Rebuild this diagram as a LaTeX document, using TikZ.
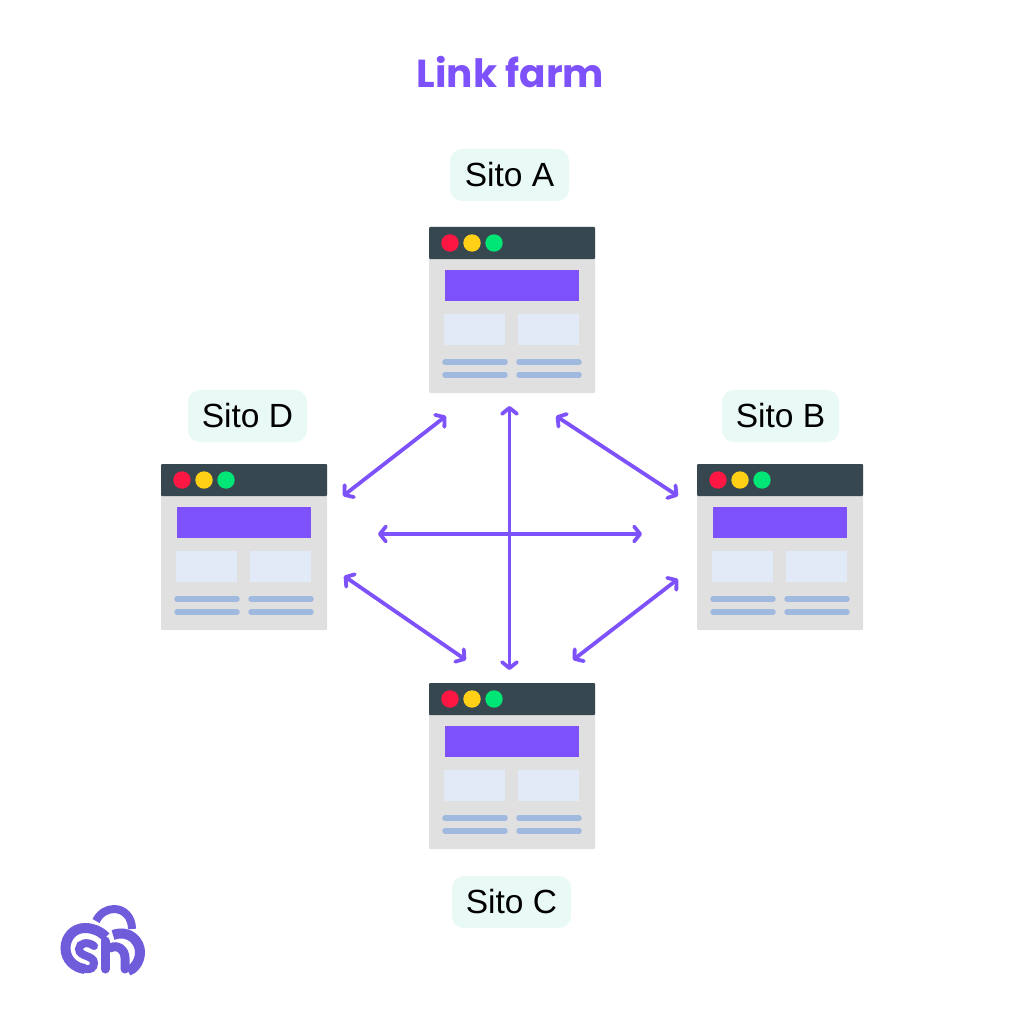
\documentclass[tikz,border=0pt]{standalone}
\usepackage{fontspec}
\setmainfont{Liberation Sans}
\newfontfamily\titlefont{Poppins}
\usetikzlibrary{arrows.meta}

\definecolor{violet}{HTML}{7E52FB}
\definecolor{barcol}{HTML}{37474F}
\definecolor{pagecol}{HTML}{E0E0E0}
\definecolor{boxcol}{HTML}{E2EAF8}
\definecolor{linecol}{HTML}{A0B9DE}
\definecolor{pillcol}{HTML}{E9F9F6}
\definecolor{logocol}{HTML}{6F5CDB}
\definecolor{dotred}{HTML}{FF1744}
\definecolor{dotyellow}{HTML}{FFD015}
\definecolor{dotgreen}{HTML}{00E676}

\tikzstyle{pill} = [fill=pillcol, rounded corners=12pt, minimum height=52pt, inner xsep=0pt, font=\fontsize{33.5}{34}\selectfont]
\tikzstyle{window} = [fill=pagecol, rounded corners=1pt, minimum width=166pt, minimum height=166pt, inner sep=0pt]
\tikzstyle{link} = [violet, line width=3.8pt, {Straight Barb[length=6pt,width=15pt,line width=3.8pt,round]}-{Straight Barb[length=6pt,width=15pt,line width=3.8pt,round]}]
\tikzstyle{textline} = [linecol, line width=5.5pt, line cap=round]
\tikzstyle{logoline} = [logocol, line width=10pt, line cap=round]

\begin{document}
\begin{tikzpicture}[x=1pt, y=-1pt]
  \useasboundingbox (0,0) rectangle (1024,1024);

  \node[font=\titlefont\bfseries\fontsize{39}{39}\selectfont, text=violet] (title) at (510.5,72) {Link farm};

  \node[pill, minimum width=119pt] (labelA) at (509.5,175) {Sito A};
  \node[pill, minimum width=119pt] (labelD) at (247.5,416) {Sito D};
  \node[pill, minimum width=117pt] (labelB) at (780.5,416) {Sito B};
  \node[pill, minimum width=119pt] (labelC) at (511.5,902) {Sito C};

  % the four browser windows
  \foreach \name/\x/\y in {A/429/227, D/161/464, B/697/464, C/429/683} {
    \node[window] (site\name) at (\x+83,\y+83) {};
    \begin{scope}[shift={(\x,\y)}]
      \fill[barcol, rounded corners=1pt] (0,0) rectangle (166,32);
      \fill[dotred] (21,16) circle (8.7);
      \fill[dotyellow] (43,16) circle (8.7);
      \fill[dotgreen] (65,16) circle (8.7);
      \fill[violet] (16,43) rectangle (150,74);
      \fill[boxcol] (15,87) rectangle (76,118);
      \fill[boxcol] (89,87) rectangle (150,118);
      \draw[textline] (16,135) -- (76,135);
      \draw[textline] (16,148) -- (76,148);
      \draw[textline] (90,135) -- (150,135);
      \draw[textline] (90,148) -- (150,148);
    \end{scope}
  }

  \coordinate (adA) at (446,416);
  \coordinate (adD) at (343,496);
  \coordinate (abA) at (556,416);
  \coordinate (abB) at (678,496);
  \coordinate (acA) at (509.5,406);
  \coordinate (acC) at (509.5,670);
  \coordinate (dbD) at (378,534);
  \coordinate (dbB) at (642,534);
  \coordinate (dcD) at (344,576);
  \coordinate (dcC) at (466,660);
  \coordinate (bcB) at (678,579);
  \coordinate (bcC) at (573,660);

  \draw[link] (adA) -- (adD);
  \draw[link] (abA) -- (abB);
  \draw[link] (acA) -- (acC);
  \draw[link] (dbD) -- (dbB);
  \draw[link] (dcD) -- (dcC);
  \draw[link] (bcB) -- (bcC);

  % logo
  \draw[logoline, line width=8pt, line cap=butt] (96,921) .. controls (100,913) and (107,909) .. (114,909) .. controls (124,909) and (132,917) .. (132,929);
  \draw[logoline, line cap=butt] (106,937) .. controls (100,931) and (93,928) .. (85,928) .. controls (73,928) and (65.5,938) .. (65.5,948) .. controls (65.5,960) and (75,968) .. (85,969);
  \draw[logoline, line width=8pt] (94,946) .. controls (88,941) and (79,943) .. (79,949) .. controls (79,957) and (94,955) .. (94,963) .. controls (94,968) and (90,970) .. (85,969);
  \draw[logoline, line width=9pt] (105,941) -- (105,969);
  \draw[logoline, line width=9pt] (110,948) .. controls (118,944) and (125,950) .. (125,958) -- (125,969);
  \draw[logoline, line cap=butt] (113,935) .. controls (130,929) and (140,942) .. (140,952) .. controls (140,962) and (134,969) .. (128,971);
\end{tikzpicture}
\end{document}
